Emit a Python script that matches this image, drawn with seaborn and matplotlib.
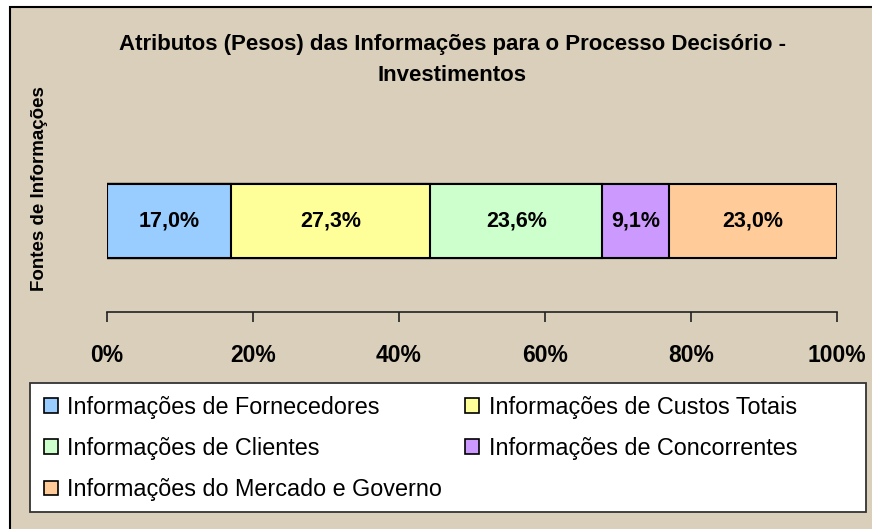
import matplotlib
matplotlib.use("Agg")
import matplotlib.pyplot as plt
import seaborn as sns
import numpy as np
from matplotlib.patches import Rectangle, Patch

# data
categories = [
    "Informações de Fornecedores",
    "Informações de Custos Totais",
    "Informações de Clientes",
    "Informações de Concorrentes",
    "Informações do Mercado e Governo",
]
weights = [17.0, 27.3, 23.6, 9.1, 23.0]
colors = ["#99CCFF", "#FFFF99", "#CCFFCC", "#CC99FF", "#FFCC99"]
xticks = [0, 20, 40, 60, 80, 100]

sns.set_theme(style="white")
plt.rcParams["font.family"] = ["Liberation Sans", "DejaVu Sans"]
plt.rcParams["text.color"] = "black"
plt.rcParams["xtick.color"] = "black"

BG = "#D9CFBB"

fig = plt.figure(figsize=(8.72, 5.29), dpi=100, facecolor="white")
# chart area frame (cut off at the right and bottom)
fig.patches.append(Rectangle((10 / 872, -0.05), 1.2, 1 - 7 / 529 + 0.05,
                             transform=fig.transFigure, facecolor=BG,
                             edgecolor="black", linewidth=1.5, zorder=-10))
# legend box
fig.patches.append(Rectangle((30 / 872, 1 - 512 / 529), 836 / 872, 129 / 529,
                             transform=fig.transFigure, facecolor="white",
                             edgecolor="#333333", linewidth=1.3, zorder=-5))

ax = fig.add_axes([106.7 / 872, 1 - 312 / 529, 730 / 872, 182 / 529])
ax.set_facecolor("none")

# stacked bar: draw cumulative totals from the largest down
cum = np.cumsum(weights)
for i in range(len(weights) - 1, -1, -1):
    sns.barplot(x=[cum[i]], y=[0], orient="h", color=colors[i],
                saturation=1, width=0.81, edgecolor="black", linewidth=1.5,
                ax=ax)

starts = cum - np.array(weights)
for s, w in zip(starts, weights):
    ax.text(s + w / 2, 0, f"{w:.1f}%".replace(".", ","), ha="center",
            va="center", fontsize=15.5, fontweight="bold", color="black")

ax.set_xlim(0, 100)
ax.set_ylim(1.0, -1.0)
ax.set_xticks(xticks)
ax.set_xticklabels([f"{t}%" for t in xticks], fontsize=16.5,
                   fontweight="bold", color="black")
ax.set_yticks([])
ax.set_xlabel("")
ax.set_ylabel("")
for side in ["top", "right", "left"]:
    ax.spines[side].set_visible(False)
ax.spines["bottom"].set_color("#222222")
ax.spines["bottom"].set_linewidth(1.2)
ax.tick_params(axis="x", direction="out", length=7, width=1.2,
               color="#222222", pad=16, bottom=True)

fig.text(452 / 872, 1 - 60 / 529,
         "Atributos (Pesos) das Informações para o Processo Decisório -\nInvestimentos",
         ha="center", va="center", fontsize=16, fontweight="bold",
         linespacing=1.65)
fig.text(40 / 872, 1 - 189 / 529, "Fontes de Informações", rotation=90,
         ha="center", va="center", fontsize=13.5, fontweight="bold")

# legend: column-wise order to get the reference row layout
order = [0, 2, 4, 1, 3]
handles = [Patch(facecolor=colors[i], edgecolor="black", linewidth=1.2,
                 label=categories[i]) for i in order]
leg = fig.legend(handles=handles, ncol=2, loc="upper left",
                 bbox_to_anchor=(31 / 872, 1 - 383 / 529),
                 frameon=False, fontsize=16.8, handlelength=0.6,
                 handleheight=0.6, handletextpad=0.4, labelspacing=0.78,
                 borderaxespad=0, borderpad=0.55, columnspacing=1.0)

fig.savefig("out.png", dpi=100, facecolor=fig.get_facecolor())
